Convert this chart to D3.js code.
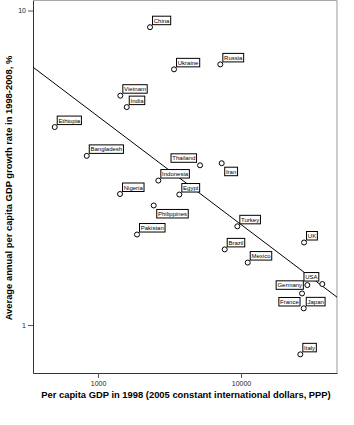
<!DOCTYPE html>
<html>
<head>
<meta charset="utf-8">
<script src="https://cdn.jsdelivr.net/npm/d3@7"></script>
<style>
  body { margin: 0; background: #fff; }
  svg { display: block; font-family: "Liberation Sans", Arial, sans-serif; }
</style>
</head>
<body>
<div id="chart"></div>
<script>
// data
const countries = ["China", "Ukraine", "Russia", "Vietnam", "India", "Ethiopia", "Bangladesh",
  "Thailand", "Iran", "Indonesia", "Egypt", "Nigeria", "Philippines", "Pakistan", "Turkey",
  "Brazil", "Mexico", "UK", "USA", "Germany", "France", "Japan", "Italy"];
const gdp1998 = [2310, 3400, 7165, 1432, 1588, 498, 834,
  5169, 7328, 2641, 3702, 1425, 2452, 1874, 9421,
  7691, 11140, 27590, 37020, 29090, 26710, 27450, 25980];
const growth = [8.85, 6.50, 6.74, 5.36, 4.93, 4.26, 3.45,
  3.22, 3.27, 2.88, 2.60, 2.61, 2.40, 1.94, 2.06,
  1.74, 1.58, 1.83, 1.35, 1.34, 1.26, 1.13, 0.807];
const xTicks = [1000, 10000];
const yTicks = [1, 10];

// where a label sits relative to its point (default: upper right)
const labelPlace = {Thailand: "ul", Iran: "lr", Philippines: "lr", Germany: "l", France: "ll", USA: "ul"};

const W = 354, H = 425;
const margin = {top: 0.5, right: 17, bottom: 52, left: 33};
const width = W - margin.left - margin.right,
      height = H - margin.top - margin.bottom;

const svg = d3.select("#chart")
  .append("svg")
  .attr("width", W)
  .attr("height", H);

const g = svg.append("g")
  .attr("transform", `translate(${margin.left}, ${margin.top})`);

const x = d3.scaleLog()
  .domain([351, 46900])
  .range([0, width]);
const y = d3.scaleLog()
  .domain([0.704, 10.76])
  .range([height, 0]);

// frame
g.append("line").attr("x1", 0).attr("x2", width).attr("y1", 0).attr("y2", 0)
  .attr("stroke", "#aaa");
g.append("line").attr("x1", width).attr("x2", width).attr("y1", 0).attr("y2", height)
  .attr("stroke", "#999");

// axes
const xAxis = g.append("g")
  .attr("transform", `translate(0, ${height})`)
  .call(d3.axisBottom(x).tickValues(xTicks).tickFormat(d3.format("d")).tickSize(5).tickSizeOuter(0));
const yAxis = g.append("g")
  .call(d3.axisLeft(y).tickValues(yTicks).tickFormat(d3.format("d")).tickSize(5).tickSizeOuter(0));
[xAxis, yAxis].forEach(a => {
  a.select(".domain").attr("stroke", "#333");
  a.selectAll(".tick line").attr("stroke", "#555");
  a.selectAll("text").attr("font-size", 7).attr("fill", "#222")
    .attr("font-family", "Liberation Sans, Arial, sans-serif");
});
yAxis.selectAll("text").attr("x", -7);
xAxis.selectAll("text").attr("y", 8);

// regression line (OLS on log-log)
const lx = gdp1998.map(Math.log10), ly = growth.map(Math.log10);
const mx = d3.mean(lx), my = d3.mean(ly);
const slope = d3.sum(lx, (v, i) => (v - mx) * (ly[i] - my)) / d3.sum(lx, v => (v - mx) * (v - mx));
const icpt = my - slope * mx;
const fit = v => Math.pow(10, icpt + slope * Math.log10(v));
const [x0, x1] = x.domain();
g.append("line")
  .attr("x1", x(x0)).attr("y1", y(fit(x0)))
  .attr("x2", x(x1)).attr("y2", y(fit(x1)))
  .attr("stroke", "#000").attr("stroke-width", 1);

// points
const pts = countries.map((c, i) => ({name: c, gdp: gdp1998[i], gr: growth[i]}));
g.append("g")
  .selectAll("circle")
  .data(pts)
  .join("circle")
  .attr("cx", d => x(d.gdp))
  .attr("cy", d => y(d.gr))
  .attr("r", 2.5)
  .attr("fill", "#fff")
  .attr("stroke", "#000")
  .attr("stroke-width", 1);

// labels
const lab = g.append("g").selectAll("g")
  .data(pts)
  .join("g");
lab.append("text")
  .text(d => d.name)
  .attr("font-size", 6)
  .attr("fill", "#000");
lab.each(function(d) {
  const t = d3.select(this).select("text");
  const bw = t.node().getComputedTextLength() + 2.5, bh = 8.5;
  const cx = x(d.gdp), cy = y(d.gr);
  let bx, by;
  switch (labelPlace[d.name]) {
    case "ul": bx = cx - 3.5 - bw; by = cy - 3 - bh; break;
    case "lr": bx = cx + 3; by = cy + 4; break;
    case "l":  bx = cx - 4 - bw; by = cy - bh / 2; break;
    case "ll": bx = cx - 2 - bw; by = cy + 4; break;
    default:   bx = cx + 2.5; by = cy - 2.5 - bh;
  }
  d3.select(this).insert("rect", "text")
    .attr("x", bx).attr("y", by).attr("width", bw).attr("height", bh)
    .attr("fill", "#fff").attr("stroke", "#000").attr("stroke-width", 1);
  t.attr("x", bx + 1.25).attr("y", by + bh - 2);
});

// axis titles
svg.append("text")
  .attr("x", margin.left + width / 2 + 1)
  .attr("y", 398)
  .attr("text-anchor", "middle")
  .attr("font-size", 9.4)
  .attr("font-weight", "bold")
  .text("Per capita GDP in 1998 (2005 constant international dollars, PPP)");
svg.append("text")
  .attr("transform", "translate(11.5, 188) rotate(-90)")
  .attr("text-anchor", "middle")
  .attr("font-size", 9.4)
  .attr("font-weight", "bold")
  .text("Average annual per capita GDP growth rate in 1998-2008, %");
</script>
</body>
</html>
